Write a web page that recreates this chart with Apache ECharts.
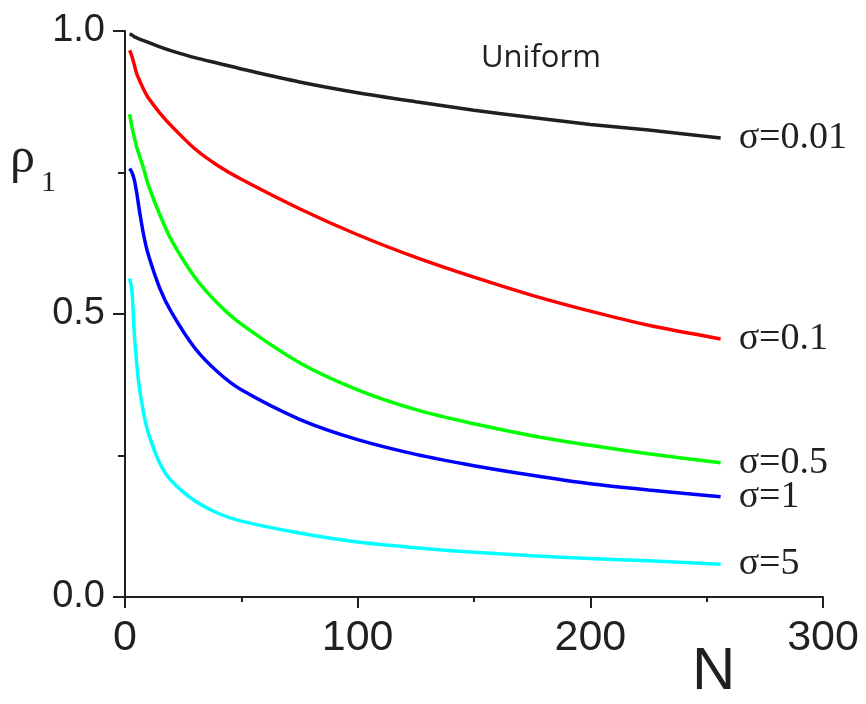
<!DOCTYPE html>
<html>
<head>
<meta charset="utf-8">
<script src="https://cdn.jsdelivr.net/npm/echarts@6/dist/echarts.min.js"></script>
<style>
  html, body { margin: 0; padding: 0; background: #fff; }
  #chart { width: 866px; height: 704px; }
</style>
</head>
<body>
<div id="chart"></div>
<script>
// N values shared by all curves
const nValues = [2, 3, 4, 5, 6, 8, 10, 15, 20, 30, 40, 50, 75, 100, 125, 150, 175, 200, 225, 256];

// rho_1 for each sigma
const rhoSigma001 = [0.995, 0.993, 0.990, 0.988, 0.986, 0.983, 0.980, 0.972, 0.965, 0.953, 0.943, 0.933, 0.910, 0.891, 0.875, 0.860, 0.847, 0.835, 0.825, 0.811];
const rhoSigma01  = [0.966, 0.955, 0.940, 0.925, 0.915, 0.897, 0.882, 0.855, 0.832, 0.792, 0.762, 0.738, 0.686, 0.640, 0.600, 0.565, 0.533, 0.505, 0.480, 0.456];
const rhoSigma05  = [0.853, 0.830, 0.812, 0.795, 0.782, 0.757, 0.728, 0.675, 0.630, 0.565, 0.518, 0.482, 0.414, 0.366, 0.331, 0.306, 0.285, 0.268, 0.253, 0.237];
const rhoSigma1   = [0.757, 0.750, 0.737, 0.715, 0.688, 0.640, 0.605, 0.545, 0.503, 0.440, 0.397, 0.366, 0.314, 0.278, 0.252, 0.232, 0.215, 0.200, 0.189, 0.177];
const rhoSigma5   = [0.563, 0.540, 0.465, 0.415, 0.375, 0.325, 0.290, 0.236, 0.205, 0.170, 0.148, 0.134, 0.113, 0.097, 0.087, 0.079, 0.073, 0.068, 0.064, 0.058];

const seriesNames = ['σ=0.01', 'σ=0.1', 'σ=0.5', 'σ=1', 'σ=5'];
const seriesColors = ['#231f20', '#ff0000', '#00ff00', '#0000ff', '#00ffff'];
const seriesValues = [rhoSigma001, rhoSigma01, rhoSigma05, rhoSigma1, rhoSigma5];

const xTicks = [0, 100, 200, 300];
const yTicks = [0, 0.5, 1.0];

const ink = '#231f20';
const chart = echarts.init(document.getElementById('chart'), null, { renderer: 'canvas' });

const option = {
  animation: false,
  backgroundColor: '#fff',
  grid: { left: 125, right: 43, top: 31, bottom: 107, containLabel: false },
  xAxis: {
    type: 'value',
    min: xTicks[0],
    max: xTicks[xTicks.length - 1],
    interval: 100,
    axisLine: { show: true, lineStyle: { color: ink, width: 2 } },
    axisTick: { show: true, inside: false, length: 11, lineStyle: { color: ink, width: 2 } },
    minorTick: { show: true, splitNumber: 2, length: 5, lineStyle: { color: ink, width: 2 } },
    splitLine: { show: false },
    axisLabel: {
      margin: 20,
      color: ink,
      fontFamily: 'Liberation Sans',
      fontSize: 43
    }
  },
  yAxis: {
    type: 'value',
    min: yTicks[0],
    max: yTicks[yTicks.length - 1],
    interval: 0.5,
    axisLine: { show: true, lineStyle: { color: ink, width: 2 } },
    axisTick: { show: true, inside: false, length: 12, lineStyle: { color: ink, width: 2 } },
    minorTick: { show: true, splitNumber: 2, length: 7, lineStyle: { color: ink, width: 2 } },
    splitLine: { show: false },
    axisLabel: {
      margin: 20,
      color: ink,
      fontFamily: 'Liberation Sans',
      fontSize: 38,
      formatter: v => v.toFixed(1)
    }
  },
  series: seriesValues.map((vals, i) => ({
    name: seriesNames[i],
    type: 'line',
    data: nValues.map((n, j) => [n, vals[j]]),
    smooth: 0.3,
    showSymbol: false,
    lineStyle: { color: seriesColors[i], width: 3.5 },
    itemStyle: { color: seriesColors[i] },
    endLabel: {
      show: true,
      distance: 18,
      formatter: seriesNames[i],
      color: ink,
      fontFamily: 'Liberation Serif',
      fontSize: 38
    }
  })),
  graphic: [
    {
      type: 'text',
      left: 481,
      top: 43,
      style: { text: 'Uniform', fill: ink, font: '31px "Open Sans", sans-serif' }
    },
    {
      type: 'text',
      left: 692,
      top: 642,
      style: { text: 'N', fill: ink, font: '60px "Liberation Sans", sans-serif' }
    },
    {
      type: 'text',
      left: 10,
      top: 134,
      style: {
        text: '{r|ρ}{s|1}',
        rich: {
          r: { fontFamily: 'Liberation Serif', fontSize: 50, fill: ink },
          s: { fontFamily: 'Liberation Serif', fontSize: 30, fill: ink, padding: [48, 0, 0, 6] }
        }
      }
    }
  ]
};

chart.setOption(option);
</script>
</body>
</html>
